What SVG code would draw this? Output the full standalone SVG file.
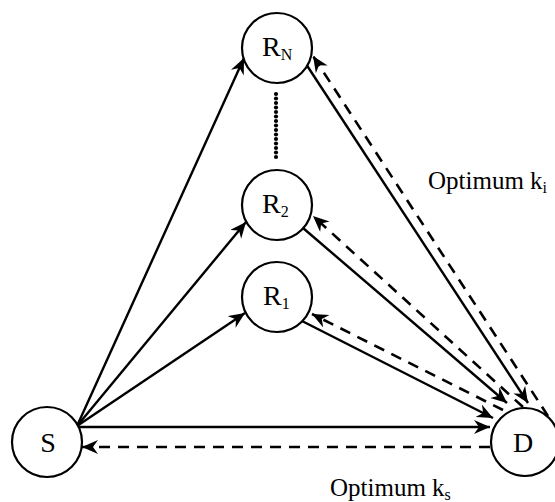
<svg xmlns="http://www.w3.org/2000/svg" width="555" height="502" viewBox="0 0 555 502">
<defs>
<marker id="ah" markerUnits="userSpaceOnUse" markerWidth="18" markerHeight="16" refX="16" refY="7" orient="auto">
<path d="M16,7 L0,0 L5,7 L0,14 Z" fill="#000"/>
</marker>
<style>
.node circle{fill:#fff;stroke:#000;stroke-width:2.2}
.lbl{font-family:"Liberation Serif","Times New Roman",serif;font-size:28px;fill:#000}
.sub{font-size:16px}
.cap{font-family:"Liberation Serif","Times New Roman",serif;font-size:25px;fill:#000}
.capsub{font-size:16px}
.solid{stroke:#000;stroke-width:2.4;fill:none;marker-end:url(#ah)}
.dash{stroke:#000;stroke-width:2.6;fill:none;stroke-dasharray:11 8;marker-end:url(#ah)}
.dot{fill:#000}
</style>
</defs>
<rect width="555" height="502" fill="#fff"/>
<g id="connectors">
<line class="solid" x1="77" y1="426" x2="244" y2="58"/>
<line class="solid" x1="77" y1="426" x2="246" y2="222"/>
<line class="solid" x1="77" y1="426" x2="245" y2="313"/>
<line class="solid" x1="78" y1="427" x2="490" y2="427"/>
<line class="dash" x1="490" y1="447" x2="82" y2="447"/>
<line class="solid" x1="306" y1="64" x2="528" y2="403"/>
<line class="dash" x1="548" y1="416" x2="313" y2="56"/>
<line class="solid" x1="303" y1="228" x2="507" y2="403"/>
<line class="dash" x1="523" y1="407" x2="313" y2="216"/>
<line class="solid" x1="302" y1="321" x2="493" y2="418"/>
<line class="dash" x1="503" y1="410" x2="312" y2="314"/>
</g>
<g id="dots">
<circle class="dot" cx="276" cy="94" r="2.1"/>
<circle class="dot" cx="276" cy="98.5" r="2.1"/>
<circle class="dot" cx="276" cy="103" r="2.1"/>
<circle class="dot" cx="276" cy="107.5" r="2.1"/>
<circle class="dot" cx="276" cy="112" r="2.1"/>
<circle class="dot" cx="276" cy="116.5" r="2.1"/>
<circle class="dot" cx="276" cy="121" r="2.1"/>
<circle class="dot" cx="276" cy="125.5" r="2.1"/>
<circle class="dot" cx="276" cy="130" r="2.1"/>
<circle class="dot" cx="276" cy="134.5" r="2.1"/>
<circle class="dot" cx="276" cy="139" r="2.1"/>
<circle class="dot" cx="276" cy="143.5" r="2.1"/>
<circle class="dot" cx="276" cy="148" r="2.1"/>
<circle class="dot" cx="276" cy="152.5" r="2.1"/>
<circle class="dot" cx="276" cy="157" r="2.1"/>
</g>
<g id="node-RN" class="node">
<circle cx="277" cy="48" r="35"/>
<text class="lbl" x="262" y="56">R<tspan class="sub" dy="4">N</tspan></text>
</g>
<g id="node-R2" class="node">
<circle cx="277" cy="205" r="35"/>
<text class="lbl" x="262" y="213">R<tspan class="sub" dy="4">2</tspan></text>
</g>
<g id="node-R1" class="node">
<circle cx="277" cy="297" r="35"/>
<text class="lbl" x="263" y="305">R<tspan class="sub" dy="4">1</tspan></text>
</g>
<g id="node-S" class="node">
<circle cx="47" cy="442" r="35"/>
<text class="lbl" x="48" y="452" text-anchor="middle">S</text>
</g>
<g id="node-D" class="node">
<circle cx="525" cy="442" r="34"/>
<text class="lbl" x="523" y="452" text-anchor="middle">D</text>
</g>
<g id="labels">
<text class="cap" x="428" y="189">Optimum k<tspan class="capsub" dy="4">i</tspan></text>
<text class="cap" x="330" y="496">Optimum k<tspan class="capsub" dy="4">s</tspan></text>
</g>
</svg>
